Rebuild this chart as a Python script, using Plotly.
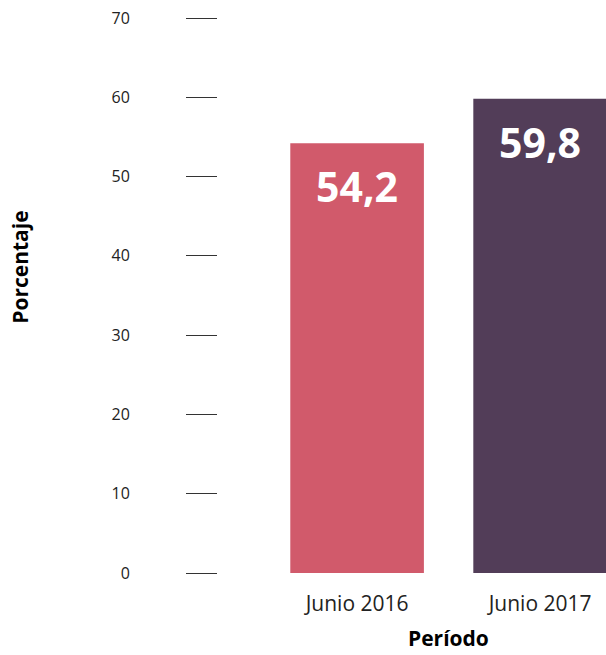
import plotly.graph_objects as go

categories = ["Junio 2016", "Junio 2017"]
values = [54.2, 59.8]
labels = ["54,2", "59,8"]
colors = ["#D15A6B", "#523D58"]
y_ticks = [0, 10, 20, 30, 40, 50, 60, 70]

FONT = "Open Sans"

W, H = 606, 655
L, R, T, B = 218, 0, 18, 82

fig = go.Figure()
fig.add_trace(go.Bar(
    x=categories, y=values, marker=dict(color=colors, line=dict(width=0)),
    width=0.73, hoverinfo="skip",
))

for c, v, t in zip(categories, values, labels):
    fig.add_annotation(x=c, y=v, xref="x", yref="y", text=f"<b>{t}</b>",
                       showarrow=False, yanchor="middle", yshift=-43,
                       font=dict(family=FONT, size=41, color="white"))

fig.add_annotation(x=0.5, xref="x", y=-0.118, yref="paper", text="<b>Período</b>",
                   showarrow=False, yanchor="middle",
                   font=dict(family=FONT, size=21, color="black"))
fig.add_annotation(x=(20 - L) / (W - L - R), xref="paper", xanchor="center", y=0.55, yref="paper",
                   text="<b>Porcentaje</b>", textangle=-90, showarrow=False,
                   yanchor="middle",
                   font=dict(family=FONT, size=21, color="black"))

fig.update_layout(
    width=W, height=H,
    margin=dict(l=L, r=R, t=T, b=B),
    paper_bgcolor="white", plot_bgcolor="white",
    showlegend=False,
    xaxis=dict(range=[-0.76, 1.36], showgrid=False, zeroline=False, showline=False,
               ticks="", ticklabelstandoff=16,
               tickfont=dict(family=FONT, size=21, color="#222")),
    yaxis=dict(range=[0, 70], tickvals=y_ticks, ticktext=[str(v) for v in y_ticks],
               showgrid=False, zeroline=False, showline=False,
               ticks="outside", ticklen=31, tickwidth=1, tickcolor="#333",
               ticklabelstandoff=53,
               tickfont=dict(family=FONT, size=16, color="#222")),
)

fig.write_html("out.html", config={"displayModeBar": False},
               post_script="document.body.style.margin='0';")
